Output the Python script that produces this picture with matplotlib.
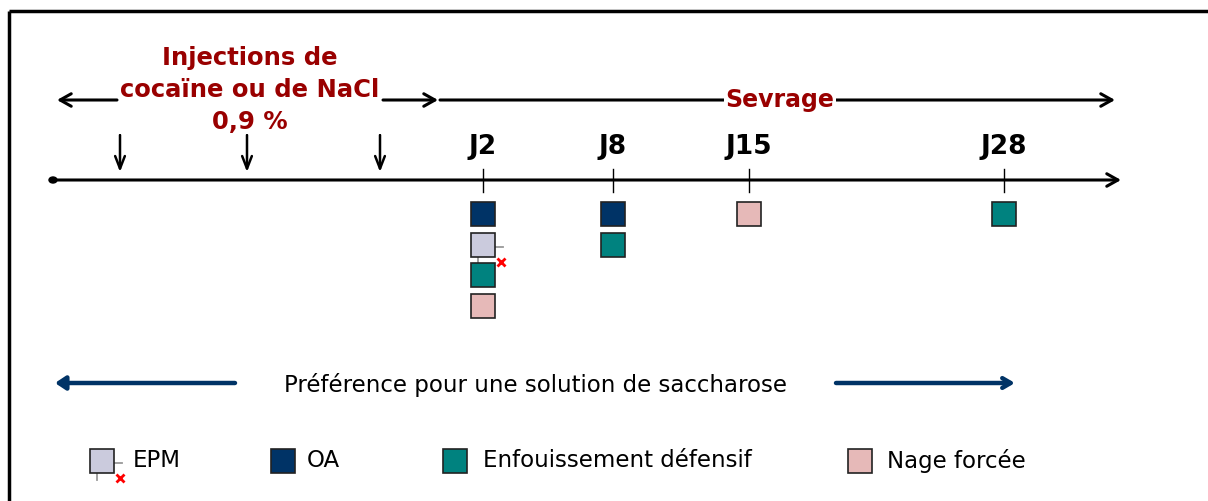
import matplotlib.pyplot as plt
from matplotlib.patches import Rectangle, Ellipse

# days and tests done on each day
days = ["J2", "J8", "J15", "J28"]
tests_by_day = [
    ["OA", "EPM", "Enfouissement défensif", "Nage forcée"],
    ["OA", "Enfouissement défensif"],
    ["Nage forcée"],
    ["Enfouissement défensif"],
]
test_names = ["EPM", "OA", "Enfouissement défensif", "Nage forcée"]
test_colors = ["#CBCBDD", "#003366", "#00827F", "#E6B9B8"]
injection_label = "Injections de\ncocaïne ou de NaCl\n0,9 %"
withdrawal_label = "Sevrage"
sucrose_label = "Préférence pour une solution de saccharose"

# layout (pixel coordinates)
day_x = [483, 613, 749, 1004]
injection_x = [120, 247, 380]
legend_x = [102, 283, 455, 860]
legend_text_x = [133, 307, 483, 887]
line_y = 181
sq = 24
red = "#990000"
navy = "#003366"

fig = plt.figure(figsize=(12.08, 5.02), dpi=100)
ax = fig.add_axes([0, 0, 1, 1])
ax.set_xlim(0, 1208)
ax.set_ylim(502, 0)
ax.axis("off")

# frame (top and left only)
ax.plot([9, 1208], [12, 12], color="black", lw=2.5, solid_capstyle="butt")
ax.plot([9, 9], [12, 502], color="black", lw=2.5, solid_capstyle="butt")


def arrow(x0, y0, x1, y1, color="black", lw=2.2, style="->,head_length=0.8,head_width=0.45"):
    ax.annotate("", xy=(x1, y1), xytext=(x0, y0),
                arrowprops=dict(arrowstyle=style, color=color, lw=lw,
                                shrinkA=0, shrinkB=0))


def square(x, y, name):
    c = test_colors[test_names.index(name)]
    ax.add_patch(Rectangle((x - sq / 2, y - sq / 2), sq, sq, facecolor=c,
                           edgecolor="#222222", lw=1.2, zorder=3))
    if name == "EPM":
        ax.plot([x + sq / 2, x + sq / 2 + 8], [y + 2, y + 2], color="#999999", lw=1.3, zorder=2)
        ax.plot([x - 5, x - 5], [y + sq / 2, y + sq / 2 + 7], color="#999999", lw=1.3, zorder=2)
        ax.plot([x + sq / 2 + 6], [y + sq / 2 + 5], marker="x", color="red",
                ms=6, mew=2, zorder=4)


# main timeline
arrow(52, line_y, 1121, line_y)
ax.add_patch(Ellipse((53, line_y), 8, 6, color="black"))

# injections
for x in injection_x:
    arrow(x, 136, x, 173, lw=1.8, style="->,head_length=0.9,head_width=0.35")

# injection period arrows
arrow(117, 101, 57, 101)
arrow(383, 101, 438, 101)
arrow(440, 101, 1115, 101)
ax.text(250, 90, injection_label, ha="center", va="center", color=red,
        fontsize=17.5, fontweight="bold", linespacing=1.42,
        bbox=dict(facecolor="white", edgecolor="none", pad=1))
ax.text(780, 100, withdrawal_label, ha="center", va="center", color=red,
        fontsize=17, fontweight="bold",
        bbox=dict(facecolor="white", edgecolor="none", pad=1))

# days and tests
for x, d, tests in zip(day_x, days, tests_by_day):
    ax.text(x, 147, d, ha="center", va="center", fontsize=19, fontweight="bold")
    ax.plot([x, x], [170, 193], color="black", lw=1)
    for i, t in enumerate(tests):
        square(x, 215 + i * 30.5, t)

# sucrose preference
arrow(235, 384, 55, 384, color=navy, lw=3.2, style="-|>,head_length=0.6,head_width=0.4")
arrow(836, 384, 1015, 384, color=navy, lw=3.2, style="->,head_length=0.6,head_width=0.35")
ax.text(536, 385, sucrose_label, ha="center", va="center", fontsize=16.5)

# legend
for x, tx, name in zip(legend_x, legend_text_x, test_names):
    square(x, 462, name)
    ax.text(tx, 461, name, ha="left", va="center", fontsize=16.5)

fig.savefig("out.png", dpi=100)
